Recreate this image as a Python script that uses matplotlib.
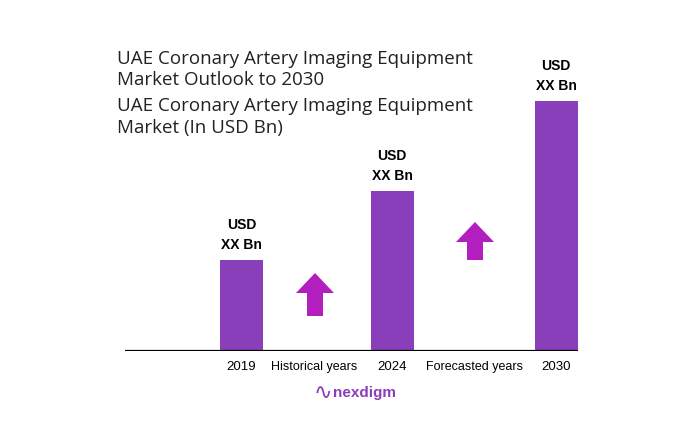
import matplotlib
matplotlib.use("Agg")
import matplotlib.pyplot as plt

# ── data ─────────────────────────────────────────────
years = ["2019", "2024", "2030"]
bar_values = [91, 160, 250]          # relative heights (values are "XX")
bar_labels = ["USD\nXX Bn", "USD\nXX Bn", "USD\nXX Bn"]
period_labels = ["Historical years", "Forecasted years"]

title_1 = "UAE Coronary Artery Imaging Equipment\nMarket Outlook to 2030"
title_2 = "UAE Coronary Artery Imaging Equipment\nMarket (In USD Bn)"

BAR_COLOR = "#8a3fba"
ARROW_COLOR = "#b31fbf"

# ── layout (pixel-ish units, x from 125 to 578, y from baseline) ──
W, H = 697, 447
fig = plt.figure(figsize=(W / 100, H / 100), dpi=100)
x0, x1, base = 125, 578, 351
ax = fig.add_axes([x0 / W, (H - base) / H, (x1 - x0) / W, base / H])
ax.set_xlim(x0, x1)
ax.set_ylim(0, base)
ax.axis("off")

bar_x = [241.5, 392, 556]
period_x = [314, 475]

ax.bar(bar_x, bar_values, width=43, color=BAR_COLOR, zorder=2)
ax.axhline(0, color="black", lw=1.6, zorder=3)

for x, v, lab in zip(bar_x, bar_values, bar_labels):
    ax.text(x, v + 8, lab, ha="center", va="bottom", fontsize=10,
            fontweight="bold", family="Liberation Sans", linespacing=1.55)

for x, lab in zip(bar_x, years):
    ax.text(x, -16, lab, ha="center", va="center", fontsize=9.5,
            family="Liberation Sans")
for x, lab in zip(period_x, period_labels):
    ax.text(x, -16, lab, ha="center", va="center", fontsize=9,
            family="Liberation Sans")

# growth arrows
arrows = [(315, 35, 78), (475, 91, 129)]   # x, base, tip (height above baseline)
for x, b, t in arrows:
    ax.arrow(x, b, 0, t - b, width=16, head_width=38, head_length=20,
             length_includes_head=True, color=ARROW_COLOR, lw=0, zorder=2)

# titles
fig.text(117 / W, 1 - 50 / H, title_1, ha="left", va="top", fontsize=13.5,
         family="Open Sans", color="#222222", linespacing=1.2)
fig.text(117 / W, 1 - 97 / H, title_2, ha="left", va="top", fontsize=13.5,
         family="Open Sans", color="#222222", linespacing=1.3)

# logo
fig.text(323 / W, 1 - 393 / H, "\u223f", ha="center", va="center",
         fontsize=16, color="#8a3fba")
fig.text(333 / W, 1 - 393 / H, "nexdigm", ha="left", va="center",
         fontsize=11, fontweight="bold", color="#8a3fba", family="Liberation Sans")

fig.savefig("out.png", dpi=100)
